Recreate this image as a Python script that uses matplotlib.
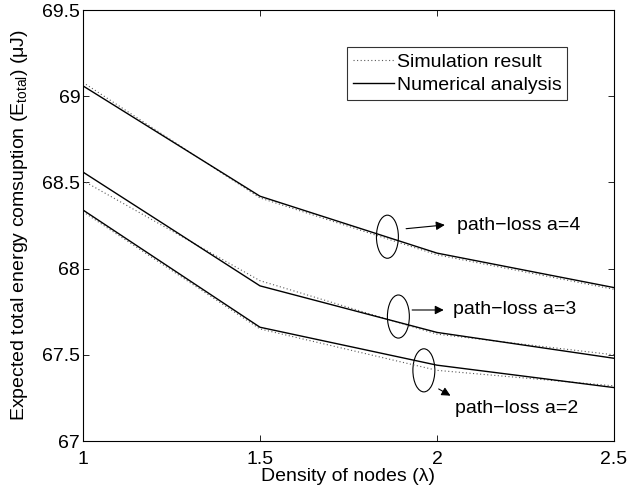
import matplotlib
matplotlib.use('Agg')
import matplotlib.pyplot as plt
from matplotlib.patches import Ellipse

plt.rcParams['font.family'] = ['Liberation Sans', 'DejaVu Sans']
plt.rcParams['mathtext.fontset'] = 'custom'
plt.rcParams['mathtext.rm'] = 'Liberation Sans'
plt.rcParams['mathtext.it'] = 'Liberation Sans:italic'

# datos
densidad = [1, 1.5, 2, 2.5]
num_a4 = [69.06, 68.42, 68.09, 67.89]
sim_a4 = [69.08, 68.41, 68.08, 67.88]
num_a3 = [68.56, 67.90, 67.63, 67.48]
sim_a3 = [68.51, 67.93, 67.62, 67.50]
num_a2 = [68.34, 67.66, 67.44, 67.31]
sim_a2 = [68.33, 67.65, 67.41, 67.32]

xticks = [1, 1.5, 2, 2.5]
xtick_labels = ['1', '1.5', '2', '2.5']
yticks = [67, 67.5, 68, 68.5, 69, 69.5]
ytick_labels = ['67', '67.5', '68', '68.5', '69', '69.5']

fs = 14

fig = plt.figure(figsize=(6.31, 4.91), dpi=100)
ax = fig.add_axes([0.1315, 0.1018, 0.8415, 0.8778])

sim_style = dict(color='0.35', linestyle=(0, (1, 2.2)), linewidth=0.8)
num_style = dict(color='k', linestyle='-', linewidth=1.0)

ax.plot(densidad, sim_a4, label='Simulation result', **sim_style)
ax.plot(densidad, num_a4, label='Numerical analysis', **num_style)
ax.plot(densidad, sim_a3, **sim_style)
ax.plot(densidad, num_a3, **num_style)
ax.plot(densidad, sim_a2, **sim_style)
ax.plot(densidad, num_a2, **num_style)

ax.set_xlim(1, 2.5)
ax.set_ylim(67, 69.5)
ax.set_xticks(xticks)
ax.set_xticklabels(xtick_labels)
ax.set_yticks(yticks)
ax.set_yticklabels(ytick_labels)
ax.tick_params(direction='in', top=True, right=True, labelsize=fs, length=4, width=0.6)
ax.tick_params(axis='y', pad=2)
ax.tick_params(axis='x', pad=7)
for s in ax.spines.values():
    s.set_linewidth(0.8)

ax.set_xlabel('Density of nodes (λ)', fontsize=fs, labelpad=0)
ax.set_ylabel('Expected total energy comsuption (E$_{\\mathrm{total}}$) (μJ)', fontsize=fs, labelpad=9)

# elipses y flechas
elipses = [(1.86, 68.185), (1.891, 67.722), (1.963, 67.41)]
for cx, cy in elipses:
    ax.add_patch(Ellipse((cx, cy), 0.062, 0.25, fill=False, edgecolor='k', linewidth=0.8))

flecha = dict(arrowstyle='-|>', color='k', lw=0.8, mutation_scale=13)
ax.annotate('', xy=(2.03, 68.255), xytext=(1.905, 68.23), arrowprops=flecha)
ax.annotate('path\u2212loss a=4', xy=(2.056, 68.252), va='center', fontsize=fs)
ax.annotate('', xy=(2.027, 67.76), xytext=(1.922, 67.76), arrowprops=flecha)
ax.annotate('path\u2212loss a=3', xy=(2.045, 67.765), va='center', fontsize=fs)
ax.annotate('', xy=(2.045, 67.255), xytext=(1.998, 67.31), arrowprops=flecha)
ax.annotate('path\u2212loss a=2', xy=(2.05, 67.19), va='center', fontsize=fs)

leg = ax.legend(loc='upper right', bbox_to_anchor=(0.912, 0.914), fontsize=fs,
                frameon=True, fancybox=False, edgecolor='k', handlelength=2.1,
                handletextpad=0.15, borderpad=0.3, labelspacing=0.3, borderaxespad=0)
leg.get_frame().set_linewidth(0.8)

plt.savefig('out.png', dpi=100)
